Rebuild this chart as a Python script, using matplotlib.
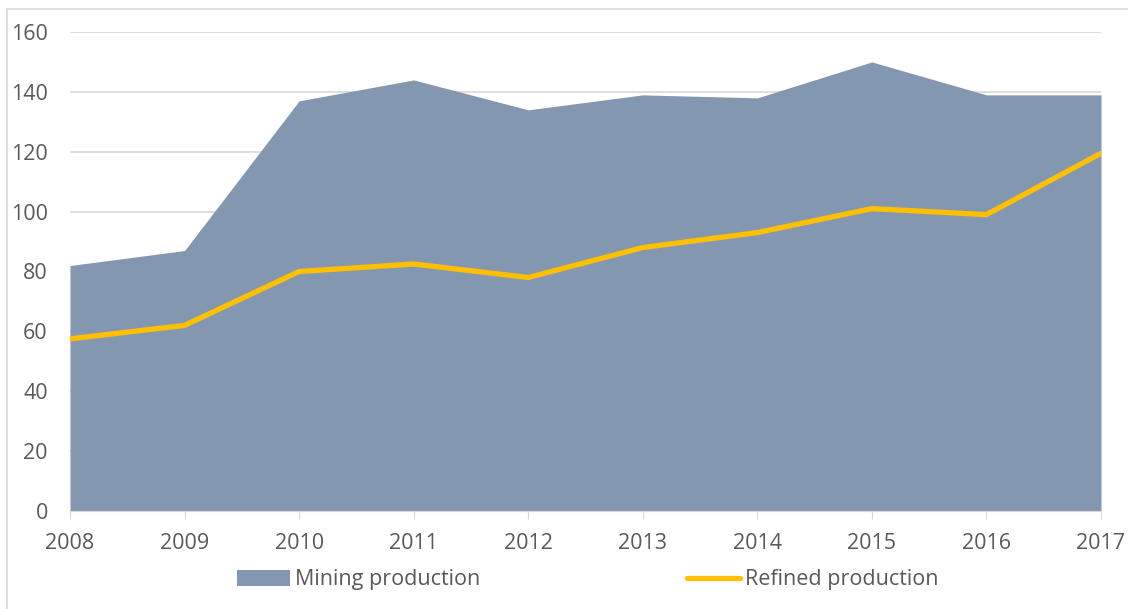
import matplotlib.pyplot as plt
import numpy as np

years = [2008, 2009, 2010, 2011, 2012, 2013, 2014, 2015, 2016, 2017]
mining = [82, 87, 137, 144, 134, 139, 138, 150, 139, 139]
refined = [57.5, 62, 80, 82.5, 78, 88, 93, 101, 99, 119.5]

plt.rcParams['font.family'] = ['Open Sans', 'DejaVu Sans']

fig = plt.figure(figsize=(11.28, 6.09), dpi=100)
ax = fig.add_axes([70 / 1128, 1 - 511 / 609, (1101 - 70) / 1128, (511 - 32) / 609])

x = np.arange(len(years))
ax.fill_between(x, 0, mining, color='#8497b0', linewidth=0, label='Mining production', zorder=2)
ax.plot(x, refined, color='#ffc000', linewidth=3.8, solid_capstyle='round',
        label='Refined production', zorder=3)

ax.set_xlim(0, len(years) - 1)
ax.set_ylim(0, 160)
ax.set_yticks(range(0, 161, 20))
ax.set_xticks(x)
ax.set_xticklabels([str(y) for y in years])
ax.grid(axis='y', color='#d9d9d9', linewidth=1.2, zorder=1)
ax.set_axisbelow(True)
for s in ['top', 'right', 'left']:
    ax.spines[s].set_visible(False)
ax.spines['bottom'].set_color('#d9d9d9')
ax.tick_params(axis='y', length=0, pad=16, labelsize=15.5, labelcolor='#595959')
ax.tick_params(axis='x', length=6, color='#d9d9d9', pad=10, labelsize=15.5, labelcolor='#595959')

leg = fig.legend(loc='center', bbox_to_anchor=(0.521, 1 - 580 / 609), ncol=2, frameon=False,
                 fontsize=15.5, labelcolor='#595959', handlelength=2.45, handletextpad=0.25,
                 columnspacing=9.6)

# outer chart frame (left and top edges visible)
fig.add_artist(plt.Line2D([7 / 1128, 7 / 1128], [0, 1 - 9 / 609], color='#d9d9d9', linewidth=1.2))
fig.add_artist(plt.Line2D([7 / 1128, 1], [1 - 9 / 609, 1 - 9 / 609], color='#d9d9d9', linewidth=1.2))

fig.savefig('out.png', dpi=100)
